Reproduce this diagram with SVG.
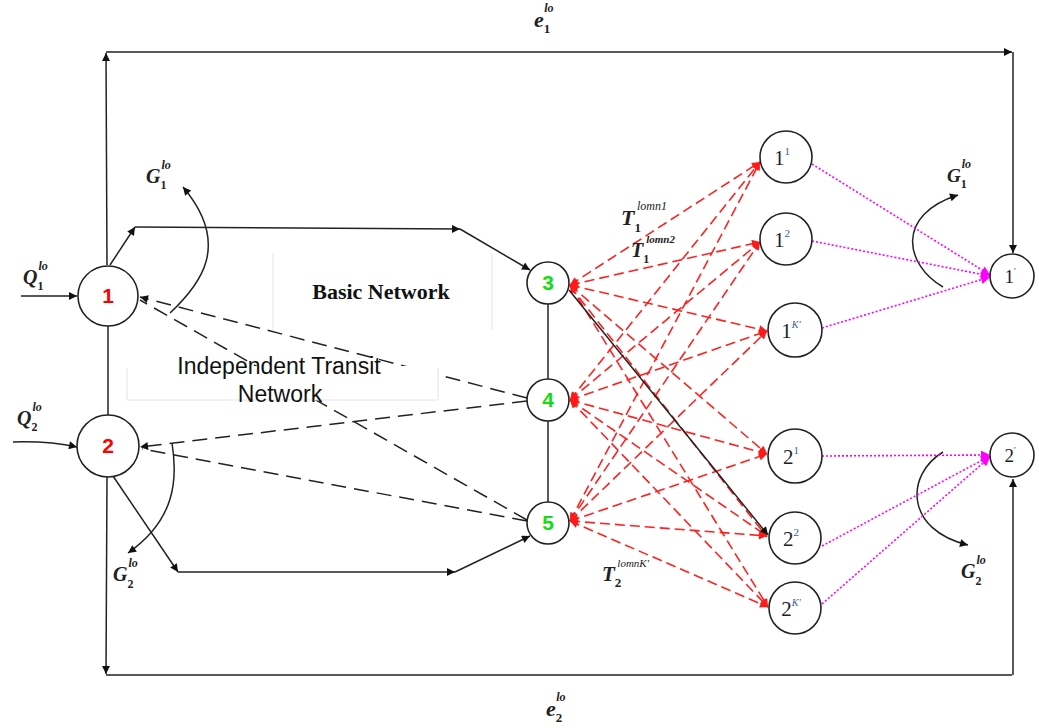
<svg xmlns="http://www.w3.org/2000/svg" width="1039" height="728" viewBox="0 0 1039 728">
  <style>
    .node { fill: #fff; stroke: #222; stroke-width: 1.6; }
    .ln { fill: none; stroke: #222; stroke-width: 1.5; }
    .dash { fill: none; stroke: #222; stroke-width: 1.5; stroke-dasharray: 15 8; }
    .red { fill: none; stroke: #ff2020; stroke-width: 1.6; stroke-dasharray: 10 5; }
    .mag { fill: none; stroke: #ff00ff; stroke-width: 1.6; stroke-dasharray: 2 2; }
    .num { font-family: "Liberation Sans", Arial, sans-serif; font-weight: bold; font-size: 21px; text-anchor: middle; }
    .sub { font-family: "Liberation Serif", "Times New Roman", serif; fill: #1d1d2b; }
    .sym { font-family: "Liberation Serif", "Times New Roman", serif; font-style: italic; font-weight: bold; fill: #222; }
    .faint { stroke: #e4e4e4; stroke-width: 1; fill: none; }
  </style>
  <defs>
    <marker id="ah" viewBox="0 0 10 10" refX="10" refY="5" markerUnits="userSpaceOnUse" markerWidth="11" markerHeight="8" orient="auto-start-reverse">
      <path d="M0,0 L10,5 L0,10 z" fill="#111"/>
    </marker>
    <marker id="ahr" viewBox="0 0 10 10" refX="10" refY="5" markerUnits="userSpaceOnUse" markerWidth="11" markerHeight="8" orient="auto-start-reverse">
      <path d="M0,0 L10,5 L0,10 z" fill="#ff1a1a"/>
    </marker>
    <marker id="ahm" viewBox="0 0 10 10" refX="10" refY="5" markerUnits="userSpaceOnUse" markerWidth="11" markerHeight="9" orient="auto">
      <path d="M0,0 L10,5 L0,10 z" fill="#ff00ff"/>
    </marker>
  </defs>

  <rect width="1039" height="728" fill="#fff"/>

  <!-- faint frame of the basic network area -->
  <line class="faint" x1="273" y1="253" x2="273" y2="330"/>
  <line class="faint" x1="492" y1="253" x2="492" y2="330"/>
  <text x="381" y="299" font-family="'Liberation Serif', 'Times New Roman', serif" font-weight="bold" font-size="22" text-anchor="middle" fill="#111">Basic Network</text>

  <g id="connectors">
    <!-- outer frame: e1 on top, e2 at the bottom -->
    <path class="ln" d="M107,265 L106,53" marker-end="url(#ah)"/>
    <path class="ln" d="M106,52 L1012,52" marker-end="url(#ah)"/>
    <path class="ln" d="M1013,52 L1013,253" marker-end="url(#ah)"/>
    <path class="ln" d="M107,477 L106,674" marker-end="url(#ah)"/>
    <path class="ln" d="M106,675 L1012,675"/>
    <path class="ln" d="M1013,675 L1013,479" marker-end="url(#ah)"/>
    <!-- 1 - 2 link -->
    <path class="ln" d="M108,326 L108,415"/>

    <!-- demand inputs -->
    <path class="ln" d="M21,296 L77,296" marker-end="url(#ah)"/>
    <path class="ln" d="M13,442 Q50,441 77,447" marker-end="url(#ah)"/>

    <!-- basic network paths -->
    <path class="ln" d="M110,265 L135,227" marker-end="url(#ah)"/>
    <path class="ln" d="M135,227 L460,229" marker-end="url(#ah)"/>
    <path class="ln" d="M460,229 L530,270" marker-end="url(#ah)"/>
    <path class="ln" d="M113,476 L178,572" marker-end="url(#ah)"/>
    <path class="ln" d="M178,572 L455,572" marker-end="url(#ah)"/>
    <path class="ln" d="M455,572 L530,536" marker-end="url(#ah)"/>
    <path class="ln" d="M548,304 L548,379"/>
    <path class="ln" d="M548,421 L548,502"/>

    <!-- transit links (dashed) -->
    <path class="dash" d="M527,398 L140,297" marker-end="url(#ah)"/>
    <path class="dash" d="M527,520 L140,300"/>
    <path class="dash" d="M527,401 L140,447" marker-end="url(#ah)"/>
    <path class="dash" d="M527,521 L142,449"/>

    <!-- generated trips at origins and destinations -->
    <path class="ln" d="M170,313 C200,285 232,245 183,187" marker-end="url(#ah)"/>
    <path class="ln" d="M172,443 C178,480 175,520 128,553" marker-end="url(#ah)"/>
    <path class="ln" d="M943,287 C905,265 895,215 958,195" marker-end="url(#ah)"/>
    <path class="ln" d="M943,452 C905,475 905,530 968,545" marker-end="url(#ah)"/>

    <!-- transfers from nodes 3, 4, 5 to the destination copies -->
    <g marker-start="url(#ahr)" marker-end="url(#ahr)">
      <path class="red" d="M570,285 L760,162"/>
      <path class="red" d="M570,285 L760,242"/>
      <path class="red" d="M570,285 L767,331"/>
      <path class="red" d="M570,285 L767,454"/>
      <path class="red" d="M570,285 L768,607"/>
      <path class="red" d="M570,400 L760,162"/>
      <path class="red" d="M570,400 L760,242"/>
      <path class="red" d="M570,400 L767,331"/>
      <path class="red" d="M570,400 L767,454"/>
      <path class="red" d="M570,400 L767,536"/>
      <path class="red" d="M570,400 L768,607"/>
      <path class="red" d="M570,521 L760,162"/>
      <path class="red" d="M570,521 L760,242"/>
      <path class="red" d="M570,521 L767,331"/>
      <path class="red" d="M570,521 L767,454"/>
      <path class="red" d="M570,521 L767,536"/>
      <path class="red" d="M570,521 L768,607"/>
    </g>
    <path class="red" d="M570,286 L767,537" marker-end="url(#ahr)"/>
    <path class="ln" d="M569,290 L768,535" marker-end="url(#ah)"/>

    <!-- copies to destinations (dotted) -->
    <path class="mag" d="M812,164 L990,275" marker-end="url(#ahm)"/>
    <path class="mag" d="M812,241 L990,276" marker-end="url(#ahm)"/>
    <path class="mag" d="M822,328 L990,277" marker-end="url(#ahm)"/>
    <path class="mag" d="M822,456 L990,455" marker-end="url(#ahm)"/>
    <path class="mag" d="M822,546 L990,456" marker-end="url(#ahm)"/>
    <path class="mag" d="M822,604 L990,457" marker-end="url(#ahm)"/>
  </g>

  <!-- independent transit label box (covers the dashed links) -->
  <rect x="127" y="366" width="311" height="34" fill="#fff"/>
  <path class="faint" d="M127,368 L127,400 L438,400 L438,368"/>
  <text x="279" y="374" font-family="'Liberation Sans', Arial, sans-serif" font-size="23" text-anchor="middle" fill="#111">Independent Transit</text>
  <text x="280" y="402" font-family="'Liberation Sans', Arial, sans-serif" font-size="23" text-anchor="middle" fill="#111">Network</text>

  <!-- origin nodes -->
  <g id="n1"><circle class="node" cx="108" cy="296" r="30"/><text class="num" x="108" y="303" fill="#ff0000">1</text></g>
  <g id="n2"><circle class="node" cx="108" cy="446" r="31"/><text class="num" x="108" y="453" fill="#ff0000">2</text></g>

  <!-- transfer nodes -->
  <g id="n3"><circle class="node" cx="548" cy="283" r="21"/><text class="num" x="548" y="290" fill="#11dd11">3</text></g>
  <g id="n4"><circle class="node" cx="548" cy="400" r="21"/><text class="num" x="548" y="407" fill="#11dd11">4</text></g>
  <g id="n5"><circle class="node" cx="548" cy="523" r="21"/><text class="num" x="548" y="530" fill="#11dd11">5</text></g>

  <!-- destination copies -->
  <g id="n1_1"><circle class="node" cx="786" cy="157" r="26"/><text class="sub" x="782" y="165" font-size="21" text-anchor="middle">1<tspan font-size="11" dy="-10" fill="#3a5c9a">1</tspan></text></g>
  <g id="n1_2"><circle class="node" cx="786" cy="239" r="26"/><text class="sub" x="782" y="247" font-size="21" text-anchor="middle">1<tspan font-size="11" dy="-10" fill="#3a5c9a">2</tspan></text></g>
  <g id="n1_K"><circle class="node" cx="795" cy="330" r="27"/><text class="sub" x="791" y="338" font-size="21" text-anchor="middle">1<tspan font-size="10" dy="-10" font-style="italic" fill="#3a5c9a">K'</tspan></text></g>
  <g id="n2_1"><circle class="node" cx="795" cy="456" r="27"/><text class="sub" x="791" y="464" font-size="21" text-anchor="middle">2<tspan font-size="11" dy="-10" fill="#3a5c9a">1</tspan></text></g>
  <g id="n2_2"><circle class="node" cx="795" cy="538" r="26"/><text class="sub" x="791" y="546" font-size="21" text-anchor="middle">2<tspan font-size="11" dy="-10" fill="#3a5c9a">2</tspan></text></g>
  <g id="n2_K"><circle class="node" cx="795" cy="608" r="26"/><text class="sub" x="791" y="616" font-size="21" text-anchor="middle">2<tspan font-size="10" dy="-10" font-style="italic" fill="#3a5c9a">K'</tspan></text></g>

  <!-- destinations -->
  <g id="d1"><circle class="node" cx="1012" cy="276" r="22"/><text class="sub" x="1010" y="283" font-size="19" text-anchor="middle">1<tspan font-size="9" dy="-9">'</tspan></text></g>
  <g id="d2"><circle class="node" cx="1012" cy="455" r="22"/><text class="sub" x="1010" y="462" font-size="19" text-anchor="middle">2<tspan font-size="9" dy="-9">'</tspan></text></g>

  <!-- flow symbols -->
  <text class="sym" x="534" y="27" font-size="22">e<tspan font-size="13" dy="6" font-style="normal">1</tspan><tspan font-size="12" dx="-6" dy="-21">lo</tspan></text>
  <text class="sym" x="546" y="716" font-size="22">e<tspan font-size="13" dy="6" font-style="normal">2</tspan><tspan font-size="12" dx="-6" dy="-21">lo</tspan></text>
  <text class="sym" x="23" y="284" font-size="20">Q<tspan font-size="12" dy="6" font-style="normal">1</tspan><tspan font-size="12" dx="-5" dy="-20">lo</tspan></text>
  <text class="sym" x="17" y="425" font-size="20">Q<tspan font-size="12" dy="6" font-style="normal">2</tspan><tspan font-size="12" dx="-5" dy="-20">lo</tspan></text>
  <text class="sym" x="146" y="183" font-size="20">G<tspan font-size="12" dy="6" font-style="normal">1</tspan><tspan font-size="12" dx="-5" dy="-20">lo</tspan></text>
  <text class="sym" x="113" y="581" font-size="20" font-weight="normal">G<tspan font-size="12" dy="7" font-style="normal">2</tspan><tspan font-size="12" dx="-5" dy="-21">lo</tspan></text>
  <text class="sym" x="947" y="182" font-size="19">G<tspan font-size="12" dy="6" font-style="normal">1</tspan><tspan font-size="12" dx="-5" dy="-20">lo</tspan></text>
  <text class="sym" x="961" y="578" font-size="20" font-weight="normal">G<tspan font-size="12" dy="7" font-style="normal">2</tspan><tspan font-size="12" dx="-5" dy="-21">lo</tspan></text>
  <text class="sym" x="621" y="225" font-size="22">T<tspan font-size="13" dy="7" font-style="normal">1</tspan><tspan font-size="12" dx="-4" dy="-22" font-weight="normal">lomn1</tspan></text>
  <text class="sym" x="631" y="257" font-size="20" font-weight="normal">T<tspan font-size="12" dy="6" font-style="normal">1</tspan><tspan font-size="11" dx="-3" dy="-20">lomn2</tspan></text>
  <text class="sym" x="602" y="581" font-size="21">T<tspan font-size="13" dy="6" font-style="normal">2</tspan><tspan font-size="11" dx="-4" dy="-20" font-weight="normal">lomnK'</tspan></text>
</svg>
